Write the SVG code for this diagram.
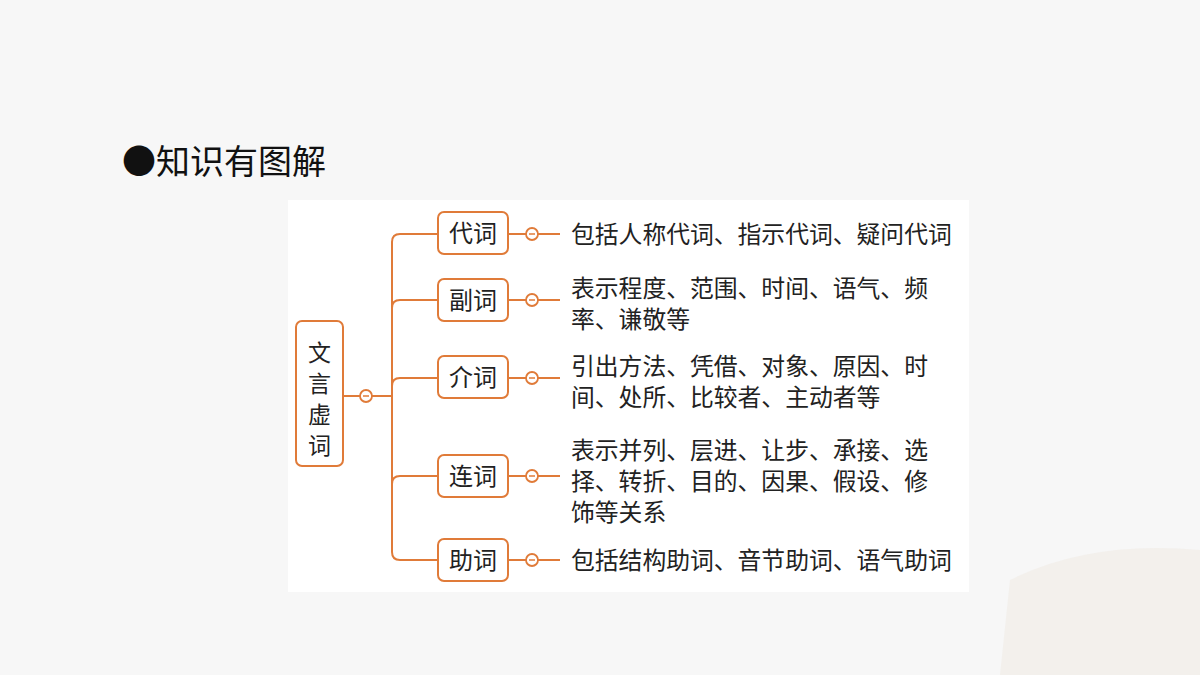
<svg xmlns="http://www.w3.org/2000/svg" width="1200" height="675" viewBox="0 0 1200 675">
<style>
.b{fill:#fff;stroke:#e07b39;stroke-width:2}
.l{fill:none;stroke:#e07b39;stroke-width:2}
.c{fill:#fff;stroke:#e07b39;stroke-width:1.8}
.t{font-family:"Noto Sans CJK SC",sans-serif;font-size:24px;fill:#222}
.r{font-family:"Noto Sans CJK SC",sans-serif;font-size:23px;fill:#222}
.d{font-family:"Noto Sans CJK SC",sans-serif;font-size:23.8px;fill:#222}
</style>
<defs>
<g id="col"><circle r="6" class="c"/><line x1="-3" y1="0" x2="3" y2="0" stroke="#e07b39" stroke-width="1.5"/></g>
</defs>
<rect width="1200" height="675" fill="#f7f7f7"/>
<path d="M1000 675 L1010 580 Q1090 540 1200 550 L1200 675 Z" fill="#f0e9e1" opacity="0.5"/>
<text x="122" y="174" font-family="Noto Sans CJK SC,sans-serif" font-size="34" fill="#111">●知识有图解</text>
<rect x="288" y="200" width="681" height="392" fill="#fff"/>
<g id="connectors">
<path class="l" d="M343 396 H392 M400 300 H438 M400 378 H438 M400 476 H438 M438 234 H400 Q392 234 392 242 V552 Q392 560 400 560 H438 M508 234 H560 M508 300 H560 M508 378 H560 M508 476 H560 M508 560 H560"/>
<path class="l" d="M392 308 Q392 300 400 300 M392 386 Q392 378 400 378 M392 484 Q392 476 400 476"/>
<use href="#col" x="366" y="396"/>
<use href="#col" x="532" y="234"/>
<use href="#col" x="532" y="300"/>
<use href="#col" x="532" y="378"/>
<use href="#col" x="532" y="476"/>
<use href="#col" x="532" y="560"/>
</g>
<g id="root"><rect class="b" x="296" y="321" width="47" height="145" rx="6"/>
<text class="r" x="319.5" y="361" text-anchor="middle">文</text>
<text class="r" x="319.5" y="392" text-anchor="middle">言</text>
<text class="r" x="319.5" y="423" text-anchor="middle">虚</text>
<text class="r" x="319.5" y="454" text-anchor="middle">词</text></g>
<g id="n1"><rect class="b" x="438" y="212" width="70" height="42" rx="6"/><text class="t" x="473" y="242" text-anchor="middle">代词</text></g>
<g id="n2"><rect class="b" x="438" y="279" width="70" height="42" rx="6"/><text class="t" x="473" y="309" text-anchor="middle">副词</text></g>
<g id="n3"><rect class="b" x="438" y="356" width="70" height="42" rx="6"/><text class="t" x="473" y="386" text-anchor="middle">介词</text></g>
<g id="n4"><rect class="b" x="438" y="455" width="70" height="42" rx="6"/><text class="t" x="473" y="485" text-anchor="middle">连词</text></g>
<g id="n5"><rect class="b" x="438" y="539" width="70" height="42" rx="6"/><text class="t" x="473" y="569" text-anchor="middle">助词</text></g>
<g id="d1"><text class="d" x="571" y="243">包括人称代词、指示代词、疑问代词</text></g>
<g id="d2"><text class="d" x="571" y="297">表示程度、范围、时间、语气、频</text><text class="d" x="571" y="328">率、谦敬等</text></g>
<g id="d3"><text class="d" x="571" y="375">引出方法、凭借、对象、原因、时</text><text class="d" x="571" y="406">间、处所、比较者、主动者等</text></g>
<g id="d4"><text class="d" x="571" y="459">表示并列、层进、让步、承接、选</text><text class="d" x="571" y="490">择、转折、目的、因果、假设、修</text><text class="d" x="571" y="521">饰等关系</text></g>
<g id="d5"><text class="d" x="571" y="569">包括结构助词、音节助词、语气助词</text></g>
</svg>
